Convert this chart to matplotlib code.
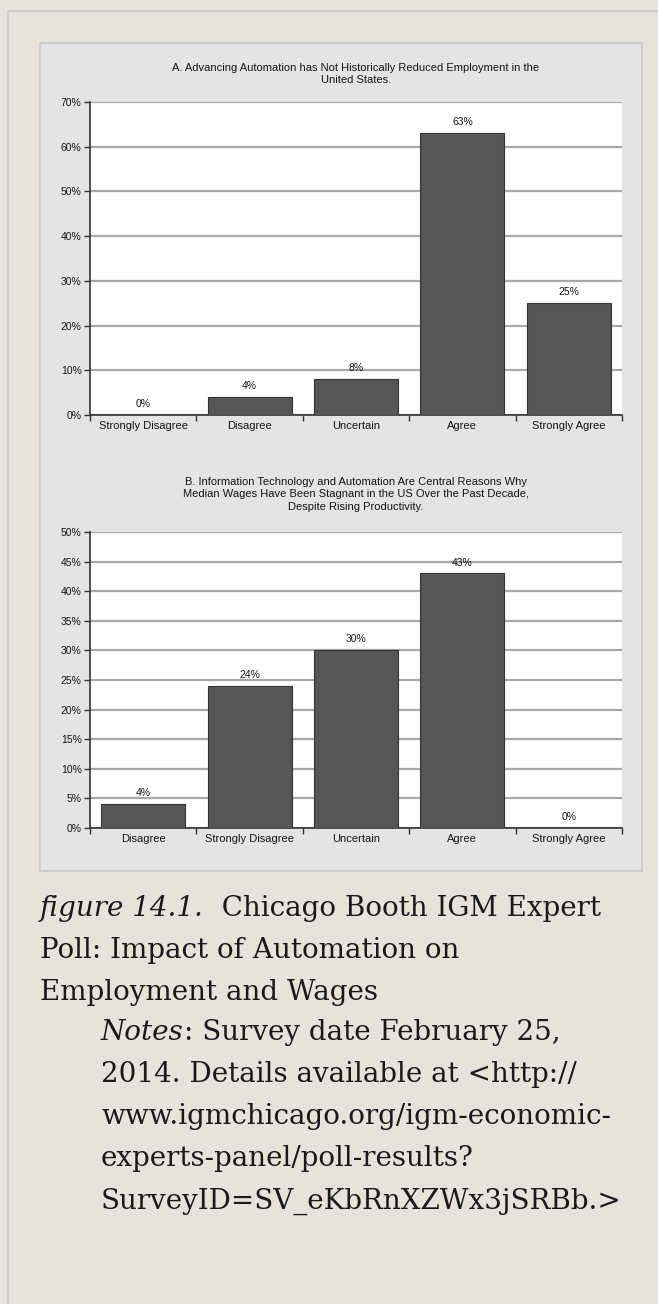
import numpy as np
import matplotlib
matplotlib.use('Agg')
from matplotlib import pyplot as plt
from matplotlib.patches import Rectangle
from matplotlib.lines import Line2D

# data
cats_a = ['Strongly Disagree', 'Disagree', 'Uncertain', 'Agree', 'Strongly Agree']
vals_a = [0, 4, 8, 63, 25]
cats_b = ['Disagree', 'Strongly Disagree', 'Uncertain', 'Agree', 'Strongly Agree']
vals_b = [4, 24, 30, 43, 0]
title_a = 'A. Advancing Automation has Not Historically Reduced Employment in the\nUnited States.'
title_b = ('B. Information Technology and Automation Are Central Reasons Why\n'
           'Median Wages Have Been Stagnant in the US Over the Past Decade,\n'
           'Despite Rising Productivity.')

W, H = 658, 1304
page = '#e6e4da'
chart_font = ['Liberation Sans', 'DejaVu Sans']
ink = '#151515'

fig = plt.figure(figsize=(W / 100, H / 100), dpi=100, facecolor=page)


def fx(px):
    return px / W


def fy(py):
    return 1 - py / H


# page border and image panel (kept behind the axes)
fig.add_artist(Line2D([fx(8), fx(8)], [fy(11), 0], color='#cfcfcf', lw=1.5, zorder=-10))
fig.add_artist(Line2D([fx(8), 1], [fy(11), fy(11)], color='#cfcfcf', lw=1.5, zorder=-10))
fig.add_artist(Rectangle((fx(40), fy(871)), fx(602), 828 / H, facecolor='#e4e4e4',
                         edgecolor='#cdcdcd', lw=1.5, zorder=-10))


def bar_panel(rect, cats, vals, ymax, step, title, title_top):
    ax = fig.add_axes(rect)
    x = np.arange(len(cats))
    ax.bar(x, vals, width=0.79, color='#565656', edgecolor='#333333', lw=0.8, zorder=3)
    for xi, v in zip(x, vals):
        ax.text(xi, v + ymax * 0.02, f'{v}%', ha='center', va='bottom',
                fontsize=7.5, family=chart_font, color=ink)
    ax.set_xlim(-0.5, len(cats) - 0.5)
    ax.set_ylim(0, ymax)
    ticks = np.arange(0, ymax + 1, step)
    ax.set_yticks(ticks)
    ax.set_yticklabels([f'{t}%' for t in ticks], fontsize=7.5, family=chart_font, color=ink)
    ax.set_xticks(x)
    ax.set_xticklabels(cats, fontsize=8, family=chart_font, color=ink)
    ax.set_xticks(np.arange(-0.5, len(cats)), minor=True)
    ax.tick_params(axis='x', which='major', length=0, pad=4)
    ax.tick_params(axis='x', which='minor', length=4, width=1, color='#333333')
    ax.tick_params(axis='y', length=4, width=1, color='#333333', pad=2)
    ax.grid(axis='y', color='#a8a8a8', lw=1.6, zorder=1)
    ax.set_axisbelow(True)
    for s in ['top', 'right']:
        ax.spines[s].set_visible(False)
    for s in ['left', 'bottom']:
        ax.spines[s].set_color('#333333')
        ax.spines[s].set_linewidth(1.2)
    ax.set_facecolor('white')
    fig.text(fx(356), fy(title_top), title, ha='center', va='top', fontsize=8,
             family=chart_font, color=ink, linespacing=1.3)
    return ax


bar_panel([fx(90), fy(415), fx(532), 313 / H], cats_a, vals_a, 70, 10, title_a, 63)
bar_panel([fx(90), fy(828), fx(532), 296 / H], cats_b, vals_b, 50, 5, title_b, 477)

# caption below the panel
serif = 'DejaVu Serif'
fs = 20
renderer = fig.canvas.get_renderer()


def line(x_px, y_px, parts):
    x = fx(x_px)
    for txt, style in parts:
        t = fig.text(x, fy(y_px), txt, ha='left', va='center', fontsize=fs,
                     family=serif, style=style, color='#1a1a1a')
        bb = t.get_window_extent(renderer)
        x = bb.x1 / fig.bbox.width


line(40, 908, [('figure 14.1.', 'italic'), ('  Chicago Booth IGM Expert', 'normal')])
line(40, 950, [('Poll: Impact of Automation on', 'normal')])
line(40, 992, [('Employment and Wages', 'normal')])
line(101, 1033, [('Notes', 'italic'), (': Survey date February 25,', 'normal')])
line(101, 1075, [('2014. Details available at <http://', 'normal')])
line(101, 1117, [('www.igmchicago.org/igm-economic-', 'normal')])
line(101, 1159, [('experts-panel/poll-results?', 'normal')])
line(101, 1201, [('SurveyID=SV_eKbRnXZWx3jSRBb.>', 'normal')])

fig.savefig('out.png', dpi=100, facecolor=page)
